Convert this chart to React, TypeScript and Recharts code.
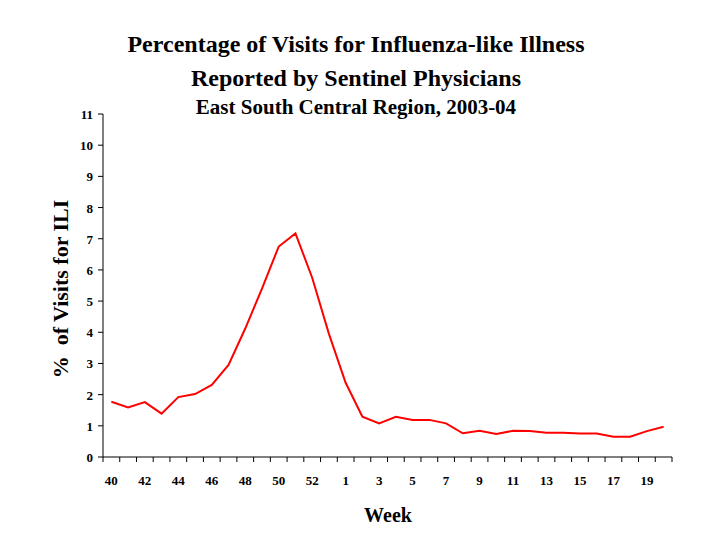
import { LineChart, Line, XAxis, YAxis, Label } from 'recharts';

// MMWR weeks of the 2003-04 season (2003 had a week 53)
const weeks = [
	'40', '41', '42', '43', '44', '45', '46', '47', '48', '49', '50', '51', '52', '53',
	'1', '2', '3', '4', '5', '6', '7', '8', '9', '10', '11', '12', '13', '14', '15', '16', '17', '18', '19', '20',
];

// % of patient visits for ILI, East South Central region
const iliPercent = [
	1.77, 1.59, 1.76, 1.39, 1.92, 2.02, 2.31, 2.95, 4.12, 5.4, 6.75, 7.17, 5.75, 3.95,
	2.38, 1.29, 1.08, 1.29, 1.19, 1.19, 1.08, 0.76, 0.84, 0.74, 0.84, 0.83, 0.78, 0.78, 0.75, 0.75, 0.65, 0.65, 0.83, 0.97,
];

const yTicks = [0, 1, 2, 3, 4, 5, 6, 7, 8, 9, 10, 11];

const data = weeks.map((week, i) => ({ week, ili: iliPercent[i] }));

const FONT = '"Liberation Serif", "Times New Roman", serif';
const WIDTH = 720;
const HEIGHT = 540;
const PLOT_LEFT = 103;
const PLOT_RIGHT = 672;
const PLOT_BOTTOM = 457;
const BAND = (PLOT_RIGHT - PLOT_LEFT) / weeks.length;

// tick marks sit between weeks, labels on every other week
function WeekTick(props: any) {
	const { x, payload, index } = props;
	const i = payload?.index ?? index ?? 0;
	const left = x - BAND / 2;
	return (
		<g>
			<line x1={left} y1={PLOT_BOTTOM} x2={left} y2={PLOT_BOTTOM + 5} stroke="#000" />
			{i === weeks.length - 1 && (
				<line x1={x + BAND / 2} y1={PLOT_BOTTOM} x2={x + BAND / 2} y2={PLOT_BOTTOM + 5} stroke="#000" />
			)}
			{i % 2 === 0 && (
				<text x={x} y={485} textAnchor="middle" fontFamily={FONT} fontWeight="bold" fontSize={13} fill="#000">
					{payload.value}
				</text>
			)}
		</g>
	);
}

function PercentTick(props: any) {
	const { x, y, payload } = props;
	return (
		<text x={x} y={y} dy={5} textAnchor="end" fontFamily={FONT} fontWeight="bold" fontSize={13} fill="#000">
			{payload.value}
		</text>
	);
}

const titleStyle: React.CSSProperties = {
	position: 'absolute',
	left: -4,
	width: WIDTH,
	textAlign: 'center',
	fontFamily: FONT,
	fontWeight: 'bold',
	color: '#000',
	whiteSpace: 'nowrap',
	lineHeight: 1,
};

export default function App() {
	return (
		<div style={{ position: 'absolute', left: 0, top: 0, width: WIDTH, height: HEIGHT, background: '#fff' }}>
			<div style={{ ...titleStyle, top: 32, fontSize: 24 }}>Percentage of Visits for Influenza-like Illness</div>
			<div style={{ ...titleStyle, top: 66, fontSize: 24 }}>Reported by Sentinel Physicians</div>
			<div style={{ ...titleStyle, top: 97, fontSize: 21 }}>East South Central Region, 2003-04</div>
			<LineChart
				width={WIDTH}
				height={HEIGHT}
				data={data}
				margin={{ top: 114, right: WIDTH - PLOT_RIGHT, left: 0, bottom: 0 }}
			>
				<XAxis
					dataKey="week"
					type="category"
					interval={0}
					height={HEIGHT - PLOT_BOTTOM}
					padding={{ left: BAND / 2, right: BAND / 2 }}
					tickLine={false}
					axisLine={{ stroke: '#000' }}
					tick={<WeekTick />}
				>
					<Label
						content={() => (
							<text x={388} y={522} textAnchor="middle" fontFamily={FONT} fontWeight="bold" fontSize={20} fill="#000">
								Week
							</text>
						)}
					/>
				</XAxis>
				<YAxis
					width={PLOT_LEFT}
					domain={[0, 11]}
					ticks={yTicks}
					interval={0}
					tickSize={5}
					tickMargin={5}
					tickLine={{ stroke: '#000' }}
					axisLine={{ stroke: '#000' }}
					tick={<PercentTick />}
				>
					<Label
						content={() => (
							<text
								x={68}
								y={289}
								transform="rotate(-90 68 289)"
								textAnchor="middle"
								fontFamily={FONT}
								fontWeight="bold"
								fontSize={22}
								fill="#000"
								style={{ whiteSpace: 'pre' }}
							>
								{'%  of Visits for ILI'}
							</text>
						)}
					/>
				</YAxis>
				<Line
					type="linear"
					dataKey="ili"
					stroke="#ff0000"
					strokeWidth={2}
					dot={false}
					isAnimationActive={false}
				/>
			</LineChart>
		</div>
	);
}
